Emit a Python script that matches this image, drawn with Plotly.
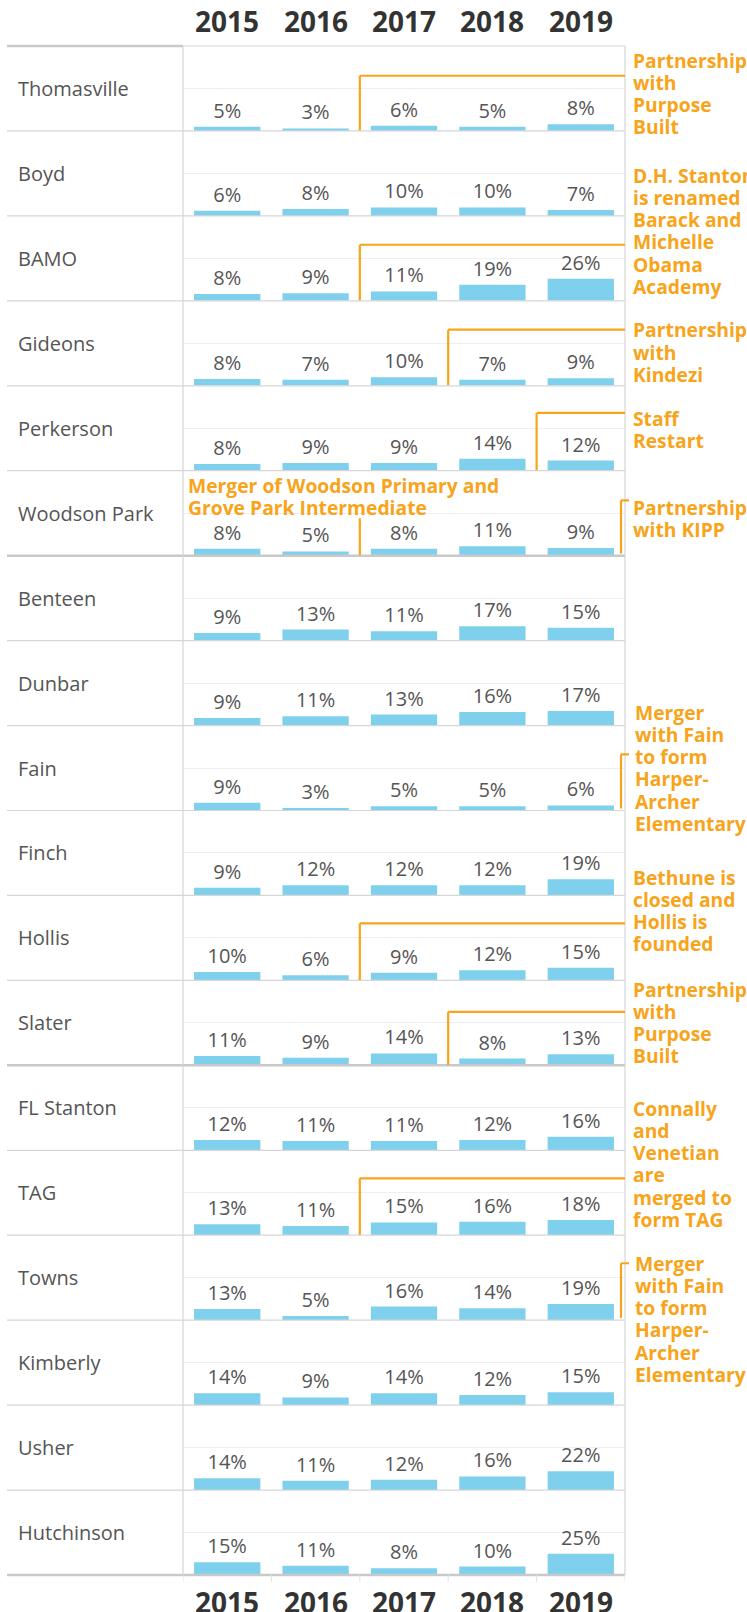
import plotly.graph_objects as go
from plotly.subplots import make_subplots

# ---------------- data ----------------
years = ["2015", "2016", "2017", "2018", "2019"]
schools = ["Thomasville", "Boyd", "BAMO", "Gideons", "Perkerson", "Woodson Park",
           "Benteen", "Dunbar", "Fain", "Finch", "Hollis", "Slater",
           "FL Stanton", "TAG", "Towns", "Kimberly", "Usher", "Hutchinson"]
pct_2015 = [5, 6, 8, 8, 8, 8, 9, 9, 9, 9, 10, 11, 12, 13, 13, 14, 14, 15]
pct_2016 = [3, 8, 9, 7, 9, 5, 13, 11, 3, 12, 6, 9, 11, 11, 5, 9, 11, 11]
pct_2017 = [6, 10, 11, 10, 9, 8, 11, 13, 5, 12, 9, 14, 11, 15, 16, 14, 12, 8]
pct_2018 = [5, 10, 19, 7, 14, 11, 17, 16, 5, 12, 12, 8, 12, 16, 14, 12, 16, 10]
pct_2019 = [8, 7, 26, 9, 12, 9, 15, 17, 6, 19, 15, 13, 16, 18, 19, 15, 22, 25]

# events: school, change happened after this year, note text
event_school = ["Thomasville", "BAMO", "Gideons", "Perkerson", "Woodson Park",
                "Woodson Park", "Fain", "Hollis", "Slater", "TAG", "Towns"]
event_after = ["2016", "2016", "2017", "2018", "2016", "2019", "2019", "2016",
               "2017", "2016", "2019"]
event_text = [
    ["Partnership", "with", "Purpose", "Built"],
    ["D.H. Stanton", "is renamed", "Barack and", "Michelle", "Obama", "Academy"],
    ["Partnership", "with", "Kindezi"],
    ["Staff", "Restart"],
    ["Merger of Woodson Primary and", "Grove Park Intermediate"],
    ["Partnership", "with KIPP"],
    ["Merger", "with Fain", "to form", "Harper-", "Archer", "Elementary"],
    ["Bethune is", "closed and", "Hollis is", "founded"],
    ["Partnership", "with", "Purpose", "Built"],
    ["Connally", "and", "Venetian", "are", "merged to", "form TAG"],
    ["Merger", "with Fain", "to form", "Harper-", "Archer", "Elementary"],
]

# ---------------- layout / style ----------------
FIG_W, FIG_H = 747, 1612
L, R, T, B = 183, 625, 46, 1575
W, H = R - L, B - T
N = len(schools)
BAR = "#7fd0ec"
ORANGE = "#f8a41a"
TXT = "#555555"
SEP = "#d6d6d6"
SEP_THICK = "#c9c9c9"
FONT = "Open Sans"

def px_x(px):
    return (px - L) / W

def px_y(py):
    return 1 - (py - T) / H

# bracket style per event: (kind, level in row units, first text line pixel y, text x px)
event_geom = [
    ("elbow", 65, 60, 631),
    ("elbow", 66, 175, 631),
    ("elbow", 66, 330, 631),
    ("elbow", 68, 418, 631),
    ("vert", 44, 485, 186),
    ("edge", 65, 507, 631),
    ("edge", 66, 712, 633),
    ("elbow", 67, 877, 631),
    ("elbow", 63, 989, 631),
    ("elbow", 67, 1108, 631),
    ("edge", 67, 1263, 633),
]
LINE_STEP = 22.3

fig = make_subplots(rows=N, cols=1, shared_xaxes=True, vertical_spacing=0)

for i, school in enumerate(schools):
    vals = [pct_2015[i], pct_2016[i], pct_2017[i], pct_2018[i], pct_2019[i]]
    fig.add_trace(go.Bar(
        x=years, y=vals, text=[f"{v}%" for v in vals],
        textposition="outside", cliponaxis=False,
        textfont=dict(family=FONT, size=20, color=TXT),
        marker=dict(color=BAR, line=dict(width=0)),
        hoverinfo="skip", showlegend=False), row=i + 1, col=1)

fig.update_yaxes(range=[0, 100], tickvals=[50], showticklabels=False,
                 showgrid=True, gridcolor="#efefef", gridwidth=1,
                 zeroline=False, showline=False, fixedrange=True)
fig.update_xaxes(type="category", range=[-0.5, 4.5], showticklabels=False,
                 showgrid=False, zeroline=False, showline=False, ticks="")

shapes = []
annotations = []

# row separators
for k in range(N + 1):
    y = 1 - k / N
    if k == 0:
        shapes.append(dict(type="line", xref="paper", yref="paper", x0=px_x(7), x1=0,
                           y0=y, y1=y, line=dict(color=SEP_THICK, width=2.5), layer="above"))
        shapes.append(dict(type="line", xref="paper", yref="paper", x0=0, x1=1,
                           y0=y, y1=y, line=dict(color=SEP, width=1.2), layer="above"))
    elif k in (6, 12, N):
        shapes.append(dict(type="line", xref="paper", yref="paper", x0=px_x(7), x1=1,
                           y0=y, y1=y, line=dict(color=SEP_THICK, width=2.5), layer="above"))
    else:
        shapes.append(dict(type="line", xref="paper", yref="paper", x0=px_x(7), x1=1,
                           y0=y, y1=y, line=dict(color=SEP, width=1.2), layer="above"))

# vertical borders
for xb in (0, 1):
    shapes.append(dict(type="line", xref="paper", yref="paper", x0=xb, x1=xb,
                       y0=0, y1=1, line=dict(color=SEP, width=1.2), layer="above"))

# bottom tick marks at column boundaries
last_x = f"x{N}"
for j in range(len(years) + 1):
    shapes.append(dict(type="line", xref=last_x, yref="paper", x0=j - 0.5, x1=j - 0.5,
                       y0=0, y1=-7 / H, line=dict(color="#e2e2e2", width=1)))

# year headers & footers (category index positions)
for j, yr in enumerate(years):
    annotations.append(dict(text=yr, xref="x", yref="paper", x=j, y=px_y(21),
                            showarrow=False, yanchor="middle",
                            font=dict(family=FONT, size=28, color="#333333", weight="bold")))
    annotations.append(dict(text=yr, xref=last_x, yref="paper", x=j, y=px_y(1602),
                            showarrow=False, yanchor="middle",
                            font=dict(family=FONT, size=28, color="#333333", weight="bold")))

# row labels
for i, school in enumerate(schools):
    yref = "y domain" if i == 0 else f"y{i + 1} domain"
    annotations.append(dict(text=school, xref="paper", yref=yref, x=px_x(16), y=0.5,
                            xanchor="left", yanchor="middle", showarrow=False,
                            font=dict(family=FONT, size=20, color=TXT)))

# event brackets and notes
for e, school in enumerate(event_school):
    kind, level, text_y, text_x = event_geom[e]
    r = schools.index(school) + 1
    xa = "x" if r == 1 else f"x{r}"
    ya = "y" if r == 1 else f"y{r}"
    xb = years.index(event_after[e]) + 0.5
    line = dict(color=ORANGE, width=2.2)
    if kind == "elbow":
        shapes.append(dict(type="line", xref=xa, yref=ya, x0=xb, x1=4.5, y0=level, y1=level,
                           line=line, layer="above"))
        shapes.append(dict(type="line", xref=xa, yref=ya, x0=xb, x1=xb, y0=level, y1=0.5,
                           line=line, layer="above"))
    elif kind == "vert":
        shapes.append(dict(type="line", xref=xa, yref=ya, x0=xb, x1=xb, y0=level, y1=0.5,
                           line=line, layer="above"))
    else:  # bracket hugging the right edge of the row
        shapes.append(dict(type="line", xref="paper", yref=ya, x0=px_x(621), x1=px_x(621),
                           y0=level, y1=2.5, line=line, layer="above"))
        shapes.append(dict(type="line", xref="paper", yref=ya, x0=px_x(621), x1=px_x(629),
                           y0=level, y1=level, line=line, layer="above"))
    for k, txt in enumerate(event_text[e]):
        annotations.append(dict(text=txt, xref="paper", yref="paper",
                                x=px_x(text_x), y=px_y(text_y + k * LINE_STEP),
                                xanchor="left", yanchor="middle", showarrow=False,
                                font=dict(family=FONT, size=19.3, color=ORANGE, weight="bold")))

fig.update_layout(
    width=FIG_W, height=FIG_H,
    margin=dict(l=L, r=FIG_W - R, t=T, b=FIG_H - B, pad=0),
    paper_bgcolor="white", plot_bgcolor="white",
    bargap=0.25, showlegend=False,
    shapes=shapes, annotations=annotations,
)

fig.write_html("out.html", config={"displayModeBar": False},
               post_script="document.body.style.margin='0px';")
